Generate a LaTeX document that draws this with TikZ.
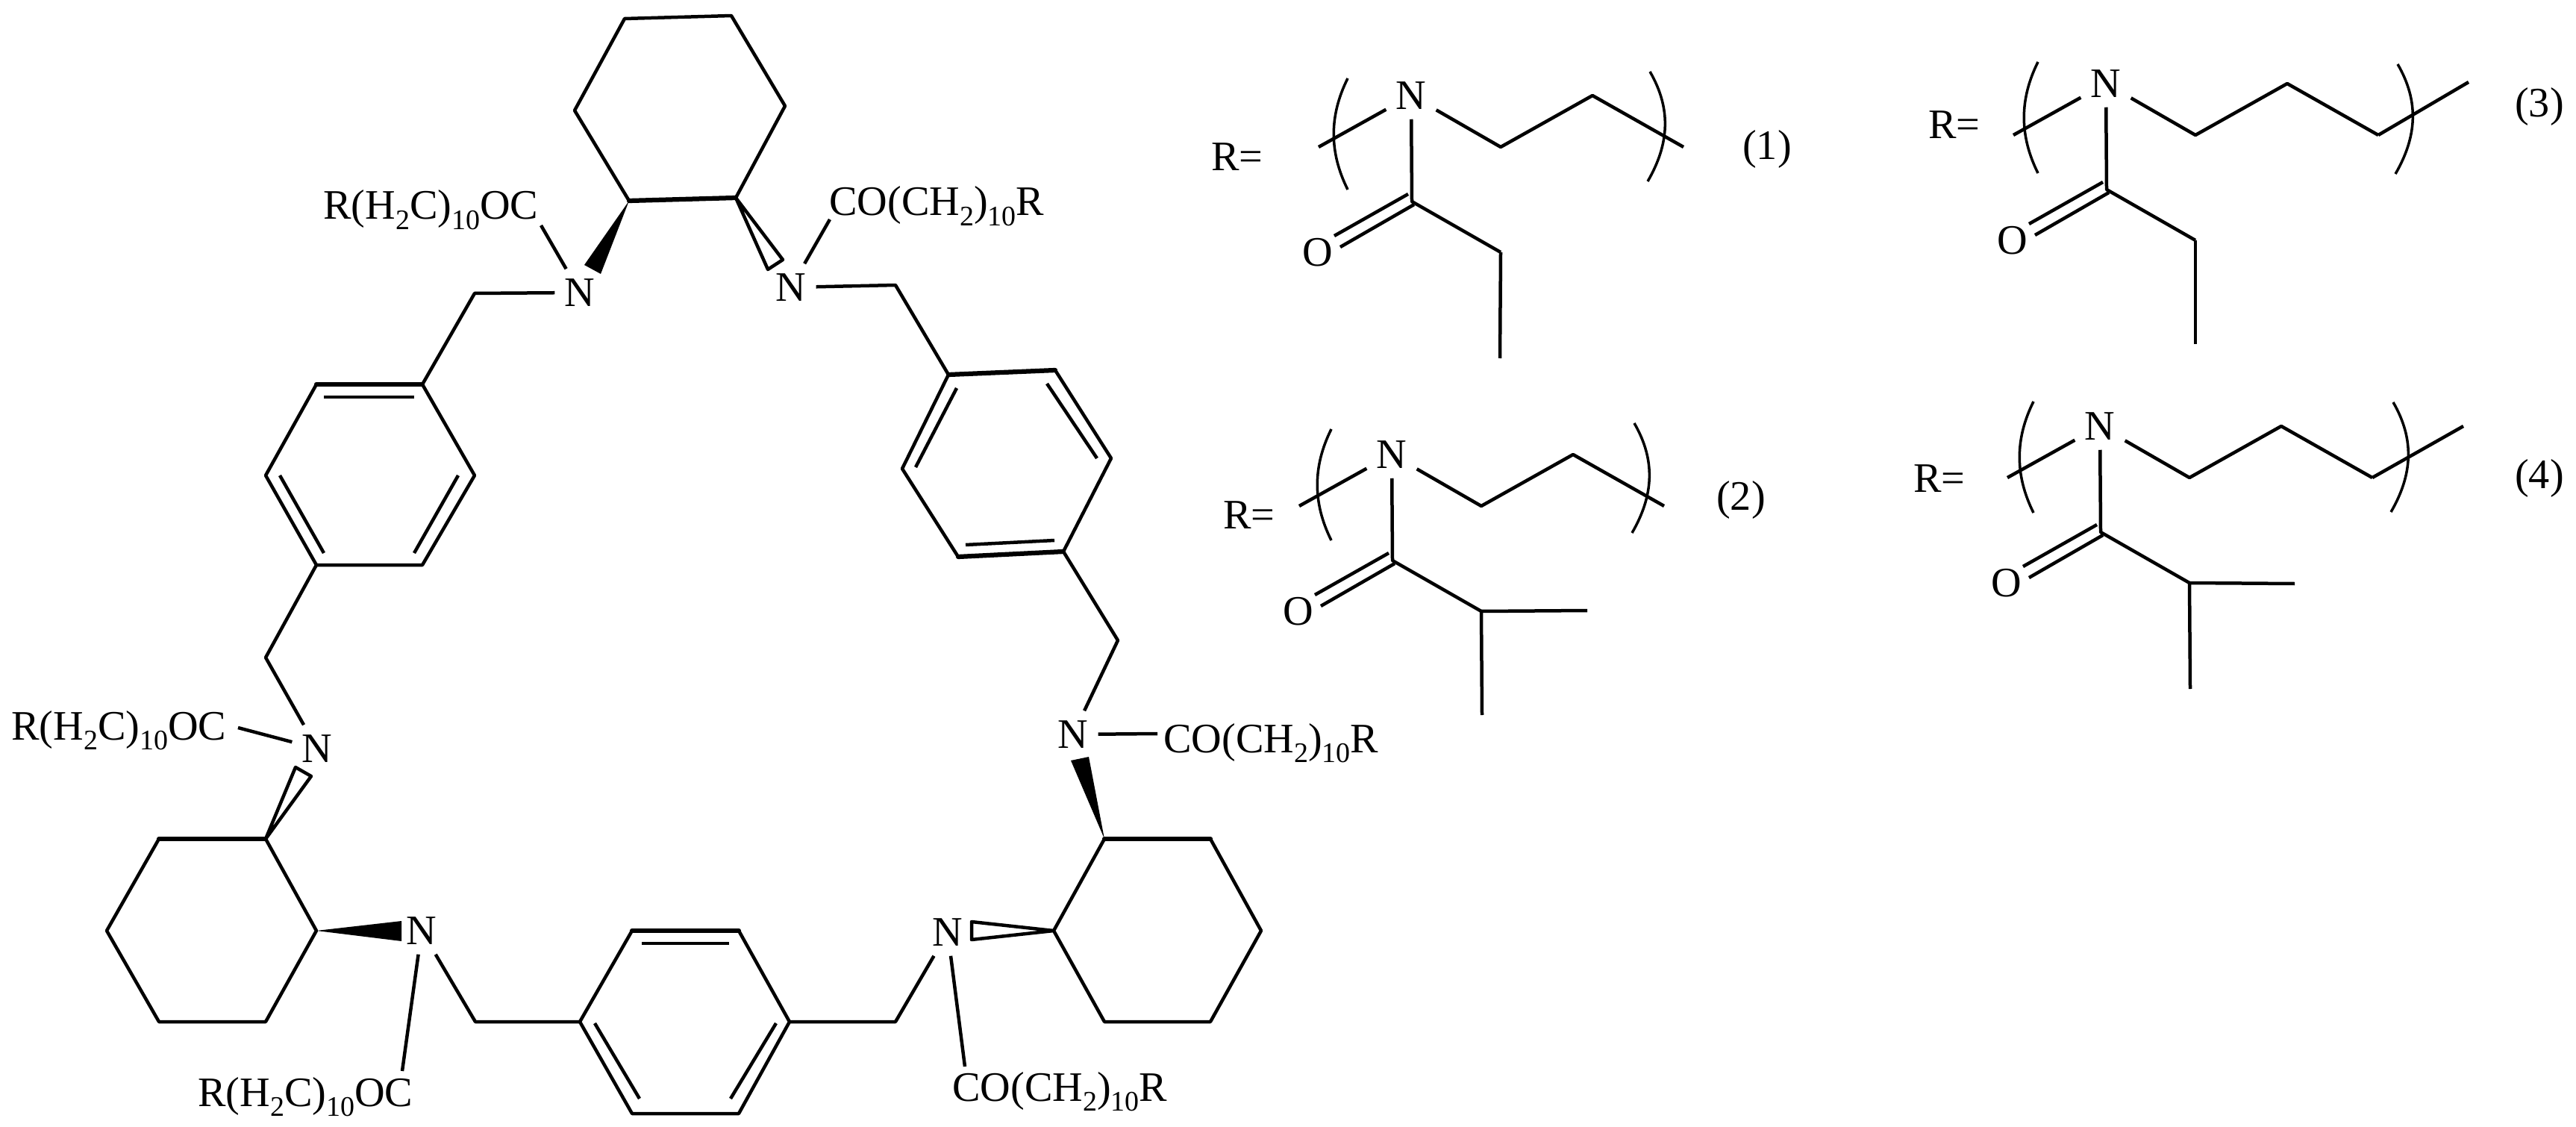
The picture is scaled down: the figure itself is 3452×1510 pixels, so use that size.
\documentclass[tikz,border=0pt]{standalone}
\usepackage{fontspec}
\setmainfont{Liberation Serif}
\newcommand{\sbs}[1]{\raisebox{-0.24em}{\fontsize{21.6}{22}\selectfont #1}}
\newcommand{\leftgroup}{R(H\sbs{2}C)\sbs{10}OC}
\newcommand{\rightgroup}{CO(CH\sbs{2})\sbs{10}R}
\tikzset{%
  bond/.style={line width=0.09cm,line join=round},%
  hbond/.style={line width=0.125cm,line cap=round},%
  brkt/.style={line width=0.07cm},%
  every node/.style={font=\fontsize{32}{32}\selectfont},%
  atom/.style={inner sep=0.26cm},%
  group/.style={anchor=base west,inner sep=0pt}}
% one repeat unit: name prefix, N position, left and right bracket tops
\newcommand{\sidechain}[4]{%
  \begin{scope}[shift={(#2)},name prefix=#1-]
    \node[atom] (n) at (0,0) {N};
    \node[inner sep=0pt] (o) at (-125,210) {O};
    \foreach \c/\x/\y in {a/-124/69,b/120/69,c/243/0,d/365/69,k/1/142,m/120/210,
      pa/-4/132,pb/-103/188,qa/4/146,qb/-95/203} {\coordinate (\c) at (\x,\y);}
    \draw[bond] (a) -- (n);
    \draw[bond] (n) -- (b) -- (c) -- (d);
    \draw[bond] (n) -- (k) -- (m);
    \draw[bond] (pa) -- (pb);
    \draw[bond] (qa) -- (qb);
    \draw[brkt] (#3) .. controls +(-25,50) and +(-25,-50) .. +(0,149);
    \draw[brkt] (#4) .. controls +(29,50) and +(29,-50) .. +(-3,147);
  \end{scope}}

\begin{document}
\begin{tikzpicture}[x=0.02cm,y=-0.02cm]
  \useasboundingbox (0,0) rectangle (3452,1510);
  % ring atoms
  \foreach \c/\x/\y in {t1/837/25,t2/980/21,t3/1052/142,t4/986/265,t5/843/269,t6/770/148,
    l1/566/515,l2/424/515,l3/356/637,l4/424/757,l5/566/757,l6/636/637,
    r1/1271/502,r2/1414/496,r3/1489/614,r4/1425/739,r5/1284/746,r6/1209/628,
    b1/847/1247,b2/990/1247,b3/1058/1369,b4/990/1492,b5/847/1492,b6/777/1369,
    c1/213/1124,c2/356/1124,c3/424/1247,c4/356/1369,c5/213/1369,c6/143/1247,
    d1/1480/1124,d2/1622/1124,d3/1690/1247,d4/1622/1369,d5/1480/1369,d6/1412/1247}
    {\coordinate (\c) at (\x,\y);}
  \foreach \c in {t,l,r,b,c,d} {\draw[bond] (\c1) -- (\c2) -- (\c3) -- (\c4) -- (\c5) -- (\c6) -- cycle;}
  \foreach \p/\q in {t4/t5,l1/l2,r1/r2,r4/r5,b1/b2,c1/c2,d1/d2} {\draw[hbond] (\p) -- (\q);}
  % inner lines of the benzene rings
  \foreach \c/\x/\y in {la/434/532,lb/555/532,lc/375/637,ld/434/741,le/614/637,lf/555/741,
    ra/1282/520,rb/1227/626,rc/1403/514,rd/1470/614,re/1294/730,rf/1413/724,
    ba/860/1264,bb/977/1264,bc/797/1371,bd/857/1472,be/1040/1371,bf/979/1472}
    {\coordinate (\c) at (\x,\y);}
  \foreach \p/\q in {la/lb,lc/ld,le/lf,ra/rb,rc/rd,re/rf,ba/bb,bc/bd,be/bf} {\draw[bond] (\p) -- (\q);}
  % nitrogens and acyl groups
  \node[atom] (na) at (777,392) {N};
  \node[atom] (nb) at (1060,385) {N};
  \node[atom] (nc) at (425,1003) {N};
  \node[atom] (nd) at (565,1247) {N};
  \node[atom] (ne) at (1438,984) {N};
  \node[atom] (nf) at (1270,1249) {N};
  \node[group] (ga) at (433,294) {\leftgroup};
  \node[group] (gb) at (1111,289) {\rightgroup};
  \node[group] (gc) at (15,991) {\leftgroup};
  \node[group] (gd) at (265,1482) {\leftgroup};
  \node[group] (ge) at (1559,1008) {\rightgroup};
  \node[group] (gf) at (1276,1475) {\rightgroup};
  \foreach \c/\x/\y in {ma/636/393,mb/1200/382,mc/356/881,md/637/1369,me/1498/858,mf/1200/1369,
    ka/725/302,kb/1112/294,kc/319/975,kd/539/1435,ke/1551/983,kf/1293/1429,
    wa/783/355,wb/805/367,wc/1049/348,wd/1029/361,we/396/1028,wf/417/1040,
    wg/538/1234,wh/538/1261,wi/1435/1019,wj/1459/1014,wk/1302/1235,wl/1302/1259}
    {\coordinate (\c) at (\x,\y);}
  \draw[bond] (l1) -- (ma) -- (na);
  \draw[bond] (r1) -- (mb) -- (nb);
  \draw[bond] (l4) -- (mc) -- (nc);
  \draw[bond] (b6) -- (md) -- (nd);
  \draw[bond] (r4) -- (me) -- (ne);
  \draw[bond] (b3) -- (mf) -- (nf);
  \foreach \p/\q in {na/ka,nb/kb,nc/kc,nd/kd,ne/ke,nf/kf} {\draw[bond] (\p) -- (\q);}
  % wedges
  \fill (t5) -- (wa) -- (wb) -- cycle;
  \fill (c3) -- (wg) -- (wh) -- cycle;
  \fill (d1) -- (wi) -- (wj) -- cycle;
  \draw[bond] (t4) -- (wc) -- (wd) -- cycle;
  \draw[bond] (c2) -- (we) -- (wf) -- cycle;
  \draw[bond] (d6) -- (wk) -- (wl) -- cycle;
  % side chains
  \node[group] (ra) at (1623,229) {R=};
  \node[group] (rb) at (1639,708) {R=};
  \node[group] (rc) at (2584,186) {R=};
  \node[group] (rd) at (2564,659) {R=};
  \sidechain{sa}{1891,128}{-85,-23}{320,-32}
  \sidechain{sb}{1865,609}{-81,-34}{325,-42}
  \sidechain{sc}{2822,112}{-91,-29}{391,-26}
  \sidechain{sd}{2814,571}{-89,-33}{393,-32}
  \foreach \c/\x/\y in {ea/2010/480,eb/1986/958,ec/2127/818,ed/2942/461,
    ee/3308/110,ef/3301/571,eg/2935/923,eh/3075/782} {\coordinate (\c) at (\x,\y);}
  \draw[bond] (sa-m) -- (ea);
  \draw[bond] (sb-m) -- (eb);
  \draw[bond] (sb-m) -- (ec);
  \draw[bond] (sc-m) -- (ed);
  \draw[bond] (sc-d) -- (ee);
  \draw[bond] (sd-d) -- (ef);
  \draw[bond] (sd-m) -- (eg);
  \draw[bond] (sd-m) -- (eh);
  \node[inner sep=0pt] (la1) at (2368,200) {(1)};
  \node[inner sep=0pt] (la2) at (2333,670) {(2)};
  \node[inner sep=0pt] (la3) at (3403,143) {(3)};
  \node[inner sep=0pt] (la4) at (3403,641) {(4)};
\end{tikzpicture}
\end{document}
